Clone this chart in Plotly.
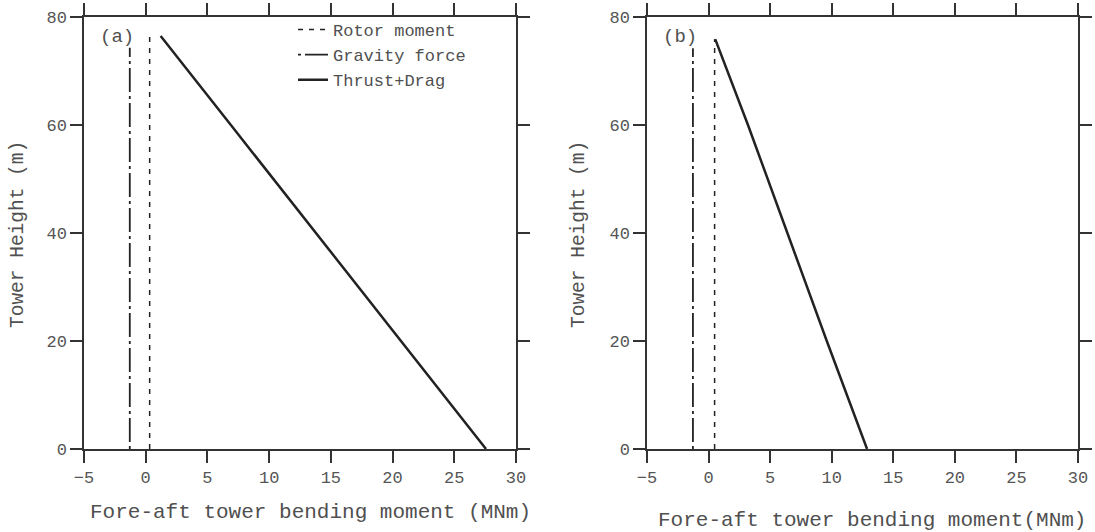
import plotly.graph_objects as go

W, H = 1095, 532

# ---- data ----
height_a_rotor = [0, 76.7]
rotor_a = [0.32, 0.32]
height_a_grav = [0, 74.3]
grav_a = [-1.29, -1.29]
height_a_thrust = [0, 20, 40, 60, 76.5]
thrust_a = [27.57, 20.7, 13.8, 6.9, 1.21]

height_b_rotor = [0, 75.9]
rotor_b = [0.49, 0.49]
height_b_grav = [0, 74.2]
grav_b = [-1.27, -1.27]
height_b_thrust = [0, 20, 40, 60, 75.9]
thrust_b = [12.87, 9.6, 6.4, 3.2, 0.54]

x_ticks = [-5, 0, 5, 10, 15, 20, 25, 30]
y_ticks = [0, 20, 40, 60, 80]

FONT = "Courier New, Liberation Mono, monospace"
TXT = "#505050"
LINE = "#222222"

def px(x):
    return x / W

def py(y):
    return 1 - y / H

fig = go.Figure()

rotor_style = dict(color=LINE, width=1.5, dash="5px,6px")
grav_style = dict(color=LINE, width=1.8, dash="3px,4px,24px,4px")
thrust_style = dict(color=LINE, width=2.5)

fig.add_trace(go.Scatter(x=rotor_a, y=height_a_rotor, mode="lines", line=rotor_style,
                         name="Rotor moment", xaxis="x", yaxis="y"))
fig.add_trace(go.Scatter(x=grav_a, y=height_a_grav, mode="lines", line=grav_style,
                         name="Gravity force", xaxis="x", yaxis="y"))
fig.add_trace(go.Scatter(x=thrust_a, y=height_a_thrust, mode="lines", line=thrust_style,
                         name="Thrust+Drag", xaxis="x", yaxis="y"))

fig.add_trace(go.Scatter(x=rotor_b, y=height_b_rotor, mode="lines", line=rotor_style,
                         showlegend=False, xaxis="x2", yaxis="y2"))
fig.add_trace(go.Scatter(x=grav_b, y=height_b_grav, mode="lines", line=grav_style,
                         showlegend=False, xaxis="x2", yaxis="y2"))
fig.add_trace(go.Scatter(x=thrust_b, y=height_b_thrust, mode="lines", line=thrust_style,
                         showlegend=False, xaxis="x2", yaxis="y2"))

axis_common = dict(showline=True, linecolor="#333333", linewidth=1.5, mirror="ticks",
                   ticks="outside", ticklen=12, tickwidth=1.5, tickcolor="#333333",
                   showgrid=False, zeroline=False, automargin=False,
                   tickfont=dict(family=FONT, size=17, color="#555555"))

xd_a = [px(84), px(516)]
xd_b = [px(647), px(1078)]
yd = [py(449), py(17)]

fig.update_layout(
    width=W, height=H,
    margin=dict(l=0, r=0, t=0, b=0, pad=0),
    paper_bgcolor="white", plot_bgcolor="white",
    font=dict(family=FONT, color=TXT),
    xaxis=dict(domain=xd_a, range=[-5, 30], tickvals=x_ticks, anchor="y", **axis_common),
    yaxis=dict(domain=yd, range=[0, 80], tickvals=y_ticks, anchor="x", **axis_common),
    xaxis2=dict(domain=xd_b, range=[-5, 30], tickvals=x_ticks, anchor="y2", **axis_common),
    yaxis2=dict(domain=yd, range=[0, 80], tickvals=y_ticks, anchor="x2", **axis_common),
    legend=dict(x=px(293), y=py(12), xanchor="left", yanchor="top",
                bgcolor="rgba(0,0,0,0)", font=dict(family=FONT, size=17, color=TXT),
                tracegroupgap=0, itemwidth=30),
    showlegend=True,
)

ann = [
    dict(text="(a)", x=px(117), y=py(37)),
    dict(text="(b)", x=px(680), y=py(37)),
]
for a in ann:
    fig.add_annotation(xref="paper", yref="paper", x=a["x"], y=a["y"], text=a["text"],
                       showarrow=False, xanchor="center", yanchor="middle",
                       font=dict(family=FONT, size=19, color=TXT))

fig.add_annotation(xref="paper", yref="paper", x=px(310), y=py(512),
                   text="Fore-aft tower bending moment (MNm)", showarrow=False,
                   xanchor="center", yanchor="middle", font=dict(family=FONT, size=21, color=TXT))
fig.add_annotation(xref="paper", yref="paper", x=px(872), y=py(520),
                   text="Fore-aft tower bending moment(MNm)", showarrow=False,
                   xanchor="center", yanchor="middle", font=dict(family=FONT, size=21, color=TXT))
fig.add_annotation(xref="paper", yref="paper", x=px(18), y=py(235),
                   text="Tower Height (m)", showarrow=False, textangle=-90,
                   xanchor="center", yanchor="middle", font=dict(family=FONT, size=19.5, color=TXT))
fig.add_annotation(xref="paper", yref="paper", x=px(579), y=py(235),
                   text="Tower Height (m)", showarrow=False, textangle=-90,
                   xanchor="center", yanchor="middle", font=dict(family=FONT, size=19.5, color=TXT))

fig.write_html("out.html")
